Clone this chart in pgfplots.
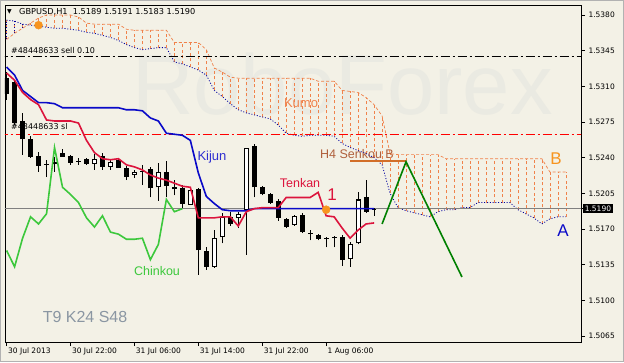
\documentclass[border=0pt]{standalone}
\usepackage{pgfplots}
\pgfplotsset{compat=1.18}
\usepackage{pgfplotstable}
\usepackage{fontspec}
\setmainfont{Liberation Sans}
\newfontfamily\tah{DejaVu Sans}
\definecolor{bg}{RGB}{243,241,230}
\definecolor{wm}{RGB}{234,234,226}
\definecolor{kumoC}{RGB}{240,130,75}
\definecolor{senA}{RGB}{0,0,160}
\definecolor{tenkanC}{RGB}{220,20,60}
\definecolor{kijunC}{RGB}{10,10,200}
\definecolor{chinC}{RGB}{60,200,60}
\definecolor{fcC}{RGB}{0,128,0}
\definecolor{dotC}{RGB}{247,148,30}
\definecolor{h4C}{RGB}{210,110,40}
\definecolor{h4T}{RGB}{176,96,60}

\pgfplotstableread{
i o h l c
0 1.5318 1.5324 1.5297 1.5302
1 1.5314 1.5316 1.5272 1.5274
2 1.5276 1.5284 1.5243 1.5258
3 1.5258 1.5261 1.5240 1.5241
4 1.5242 1.5246 1.5226 1.5232
5 1.5234 1.5238 1.5221 1.5233
7 1.5245 1.5249 1.5241 1.5241
8 1.5242 1.5243 1.5233 1.5235
9 1.5237 1.5240 1.5233 1.5236
10 1.5239 1.5240 1.5233 1.5234
12 1.5242 1.5245 1.5228 1.5231
14 1.5238 1.5239 1.5230 1.5230
15 1.5230 1.5232 1.5218 1.5221
18 1.5229 1.5231 1.5201 1.5210
20 1.5226 1.5237 1.5201 1.5212
21 1.5211 1.5218 1.5203 1.5209
22 1.5210 1.5213 1.5191 1.5195
24 1.5209 1.5210 1.5125 1.5149
25 1.5148 1.5152 1.5130 1.5133
28 1.5182 1.5187 1.5173 1.5175
31 1.5251 1.5253 1.5201 1.5211
32 1.5211 1.5212 1.5203 1.5204
33 1.5204 1.5205 1.5195 1.5196
34 1.5198 1.5199 1.5178 1.5181
35 1.5180 1.5181 1.5171 1.5172
37 1.5184 1.5186 1.5166 1.5167
38 1.5166 1.5169 1.5159 1.5165
39 1.5164 1.5165 1.5159 1.5160
40 1.5161 1.5162 1.5152 1.5160
41 1.5162 1.5163 1.5152 1.5161
42 1.5162 1.5164 1.5134 1.5140
45 1.5201 1.5218 1.5186 1.5187
}\bear

\pgfplotstableread{
i o h l c
6 1.5234 1.5241 1.5226 1.5236
11 1.5234 1.5244 1.5228 1.5239
13 1.5231 1.5238 1.5228 1.5236
16 1.5223 1.5228 1.5220 1.5226
17 1.5226 1.5233 1.5213 1.5227
19 1.5211 1.5235 1.5198 1.5226
23 1.5194 1.5209 1.5194 1.5208
26 1.5133 1.5169 1.5132 1.5161
27 1.5162 1.5186 1.5156 1.5182
29 1.5181 1.5187 1.5171 1.5185
30 1.5189 1.5250 1.5145 1.5250
36 1.5174 1.5184 1.5173 1.5183
43 1.5141 1.5157 1.5133 1.5155
44 1.5156 1.5206 1.5155 1.5199
46 1.5189 1.5191 1.5183 1.5190
}\bull

\pgfplotstableread{
i A B
0 1.5375 1.5356
1 1.5374 1.5362
2 1.5371 1.5367
3 1.5370 1.5372
4 1.5369 1.5377
5 1.5368 1.5380
6 1.5367 1.5380
7 1.5367 1.5380
8 1.5366 1.5380
9 1.5365 1.5378
10 1.5363 1.5372
11 1.5362 1.5371
12 1.5360 1.5371
13 1.5358 1.5371
14 1.5355 1.5371
15 1.5351 1.5366
16 1.5348 1.5365
17 1.5346 1.5365
18 1.5347 1.5365
19 1.5348 1.5365
20 1.5348 1.5365
21 1.5334 1.5353
22 1.5332 1.5353
23 1.5329 1.5353
24 1.5326 1.5353
25 1.5321 1.5346
26 1.5306 1.5328
27 1.5300 1.5324
28 1.5293 1.5319
29 1.5287 1.5318
30 1.5284 1.5318
31 1.5282 1.5318
32 1.5280 1.5318
33 1.5278 1.5318
34 1.5272 1.5318
35 1.5264 1.5318
36 1.5262 1.5318
37 1.5261 1.5318
38 1.5262 1.5318
39 1.5262 1.5315
40 1.5262 1.5315
41 1.5261 1.5315
42 1.5254 1.5306
43 1.5250 1.5305
44 1.5247 1.5304
45 1.5244 1.5299
46 1.5240 1.5292
47 1.5233 1.5281
48 1.5205 1.5244
49 1.5191 1.5243
50 1.5188 1.5243
51 1.5186 1.5243
52 1.5184 1.5243
53 1.5182 1.5243
54 1.5187 1.5243
55 1.5189 1.5239
56 1.5189 1.5239
57 1.5191 1.5239
58 1.5191 1.5239
59 1.5196 1.5239
60 1.5196 1.5239
61 1.5196 1.5239
62 1.5196 1.5239
63 1.5196 1.5239
64 1.5189 1.5239
65 1.5185 1.5239
66 1.5181 1.5239
67 1.5175 1.5239
68 1.5180 1.5226
69 1.5182 1.5226
70 1.5182 1.5226
}\kumo

\pgfplotstableread{
i T K
0 1.5323 1.5329
1 1.5316 1.5321
2 1.5304 1.5306
3 1.5297 1.5300
4 1.5292 1.5294
5 1.5277 1.5294
6 1.5276 1.5293
7 1.5276 1.5289
8 1.5276 1.5289
9 1.5274 1.5289
10 1.5257 1.5289
11 1.5245 1.5289
12 1.5239 1.5289
13 1.5238 1.5289
14 1.5239 1.5289
15 1.5233 1.5287
16 1.5231 1.5287
17 1.5228 1.5286
18 1.5223 1.5279
19 1.5220 1.5276
20 1.5218 1.5264
21 1.5215 1.5263
22 1.5212 1.5262
23 1.5211 1.5257
24 1.5181 1.5225
25 1.5181 1.5202
26 1.5181 1.5195
27 1.5182 1.5189
28 1.5182 1.5188
29 1.5173 1.5188
30 1.5187 1.5188
31 1.5190 1.5190
32 1.5191 1.5190
33 1.5191 1.5190
34 1.5191 1.5190
35 1.5201 1.5190
36 1.5201 1.5190
37 1.5201 1.5190
38 1.5201 1.5190
39 1.5206 1.5190
40 1.5183 1.5190
41 1.5182 1.5190
42 1.5171 1.5190
43 1.5161 1.5190
44 1.5169 1.5190
45 1.5175 1.5190
46 1.5176 1.5190
}\lines

\pgfplotstableread{
i v
0 1.5149
1 1.5133
2 1.5161
3 1.5182
4 1.5175
5 1.5185
6 1.5250
7 1.5211
8 1.5204
9 1.5196
10 1.5181
11 1.5172
12 1.5183
13 1.5167
14 1.5165
15 1.5160
16 1.5160
17 1.5161
18 1.5140
19 1.5155
20 1.5199
21 1.5187
22 1.5190
}\chinkou

\begin{document}
\begin{tikzpicture}[x=1pt,y=1pt]
\fill[bg] (0,0) rectangle (624,362);
\draw[gray!60, line width=1pt] (0.5,0.5) rectangle (623.5,361.5);
% watermark
\node[anchor=base west, inner sep=0pt, text=wm, font=\fontsize{85}{85}\selectfont] at (132,247) {RoboForex};
% texts
\node[anchor=west, inner sep=0pt, font=\tah\fontsize{6}{6}\selectfont] at (7,350) {▼};
\node[anchor=west, inner sep=0pt, font=\tah\fontsize{8.2}{9}\selectfont] at (19,350) {GBPUSD,H1\ \ 1.5189 1.5191 1.5183 1.5190};
\node[anchor=west, inner sep=0pt, font=\tah\fontsize{8}{9}\selectfont] at (11,311) {\#48448633 sell 0.10};
\node[anchor=west, inner sep=0pt, font=\tah\fontsize{8}{9}\selectfont] at (11,235) {\#48448633 sl};
\node[inner sep=0pt, text=kijunC!85!white, font=\fontsize{13}{13}\selectfont] at (212,205) {Kijun};
\node[inner sep=0pt, text=tenkanC, font=\fontsize{12.5}{13}\selectfont] at (300,179) {Tenkan};
\node[inner sep=0pt, text=tenkanC, font=\fontsize{17}{17}\selectfont] at (332,167) {1};
\node[inner sep=0pt, text=kumoC, font=\fontsize{13}{13}\selectfont] at (301,259) {Kumo};
\node[inner sep=0pt, text=h4T, font=\fontsize{12.5}{13}\selectfont] at (357,208) {H4 Senkou B};
\node[inner sep=0pt, text=dotC, font=\fontsize{17}{17}\selectfont] at (556,203) {B};
\node[inner sep=0pt, text=kijunC, font=\fontsize{17}{17}\selectfont] at (563,131) {A};
\node[inner sep=0pt, text=chinC, font=\fontsize{12.5}{13}\selectfont] at (157,91) {Chinkou};
\node[inner sep=0pt, text={rgb,255:red,138;green,150;blue,162}, font=\fontsize{16}{16}\selectfont] at (85,45) {T9 K24 S48};
\begin{axis}[
  at={(5pt,20pt)}, anchor=south west,
  width=576pt, height=337pt, scale only axis,
  xmin=-0.2, xmax=71.9, ymin=1.50592, ymax=1.53898,
  axis line style={black, line width=0.8pt},
  tick align=outside,
  ytick pos=right, xtick pos=bottom,
  ytick={1.5065,1.5100,1.5135,1.5170,1.5205,1.5240,1.5275,1.5310,1.5345,1.5380},
  scaled y ticks=false,
  yticklabel style={font=\tah\fontsize{7.5}{8}\selectfont, /pgf/number format/fixed, /pgf/number format/fixed zerofill, /pgf/number format/precision=4, /pgf/number format/assume math mode=true},
  xtick={0,8,16,24,32,40},
  xticklabels={30 Jul 2013, 30 Jul 22:00, 31 Jul 06:00, 31 Jul 14:00, 31 Jul 22:00, 1 Aug 06:00},
  xticklabel style={font=\tah\fontsize{7.5}{8}\selectfont, anchor=north west, xshift=-2pt, yshift=1.5pt},
  major tick length=4pt,
  tick style={black, line width=0.7pt},
  extra y ticks={1.5190},
  extra y tick style={major tick length=2pt, yticklabel style={fill=black, text=white, inner sep=1.6pt, font=\tah\fontsize{7.5}{8}\selectfont, /pgf/number format/fixed, /pgf/number format/fixed zerofill, /pgf/number format/precision=4, /pgf/number format/assume math mode=true}},
]
% kumo hatch
\addplot[draw=none, mark=none, forget plot, error bars/.cd, y dir=plus, y explicit, error mark=none,
  error bar style={draw=kumoC, line width=0.55pt, dash pattern=on 3pt off 2.5pt}]
  table[x=i, y expr={min(\thisrow{A},\thisrow{B})}, y error plus expr={abs(\thisrow{B}-\thisrow{A})}] {\kumo};
\addplot[draw=none, mark=none, forget plot, restrict x to domain=0:2, error bars/.cd, y dir=plus, y explicit, error mark=none,
  error bar style={draw=senA, line width=0.6pt, dash pattern=on 1pt off 1.8pt}]
  table[x=i, y expr={min(\thisrow{A},\thisrow{B})}, y error plus expr={abs(\thisrow{B}-\thisrow{A})}] {\kumo};
\addplot[kumoC, mark=none, line width=0.7pt, dash pattern=on 3pt off 2pt] table[x=i, y=B] {\kumo};
\addplot[senA, mark=none, line width=0.8pt, dash pattern=on 1pt off 1.8pt] table[x=i, y=A] {\kumo};
% horizontal levels
\addplot[black, mark=none, line width=0.9pt, dash pattern=on 9pt off 3pt on 2pt off 3pt] coordinates {(-1,1.5339) (73,1.5339)};
\addplot[red, mark=none, line width=0.9pt, dash pattern=on 9pt off 3pt on 2pt off 3pt] coordinates {(-1,1.5263) (73,1.5263)};
\addplot[gray, mark=none, line width=0.8pt] coordinates {(-1,1.5190) (73,1.5190)};
% candles: wicks
\addplot[draw=none, mark=none, error bars/.cd, y dir=plus, y explicit, error mark=none, error bar style={draw=black, solid, line width=1pt}]
  table[x=i, y=l, y error plus expr={\thisrow{h}-\thisrow{l}}] {\bear};
\addplot[draw=none, mark=none, error bars/.cd, y dir=plus, y explicit, error mark=none, error bar style={draw=black, solid, line width=1pt}]
  table[x=i, y=l, y error plus expr={\thisrow{h}-\thisrow{l}}] {\bull};
% bodies
\addplot[draw=none, mark=none, error bars/.cd, y dir=plus, y explicit, error mark=none, error bar style={draw=black, solid, line width=4.8pt}]
  table[x=i, y=c, y error plus expr={\thisrow{o}-\thisrow{c}}] {\bear};
\addplot[draw=none, mark=none, error bars/.cd, y dir=plus, y explicit, error mark=none, error bar style={draw=black, solid, line width=4.8pt}]
  table[x=i, y=o, y error plus expr={\thisrow{c}-\thisrow{o}}] {\bull};
\addplot[draw=none, mark=none, error bars/.cd, y dir=plus, y explicit, error mark=none, error bar style={draw=white, solid, line width=2.8pt}]
  table[x=i, y expr={\thisrow{o}+0.0001}, y error plus expr={max(\thisrow{c}-\thisrow{o}-0.0002,0)}] {\bull};
% ichimoku lines
\addplot[chinC, mark=none, line width=1.6pt] table[x=i, y=v] {\chinkou};
\addplot[kijunC, mark=none, line width=1.6pt] table[x=i, y=K] {\lines};
\addplot[tenkanC, mark=none, line width=1.6pt] table[x=i, y=T] {\lines};
% H4 Senkou B level
\addplot[h4C, mark=none, line width=2pt] coordinates {(43,1.5237) (50,1.5237)};
% forecast
\addplot[fcC, mark=none, line width=1.6pt] coordinates {(47,1.5175) (50,1.5236) (57,1.5123)};
% markers
\addplot[only marks, mark=*, mark size=4pt, color=dotC] coordinates {(4,1.5370) (40,1.5189)};
\end{axis}
\end{tikzpicture}
\end{document}
